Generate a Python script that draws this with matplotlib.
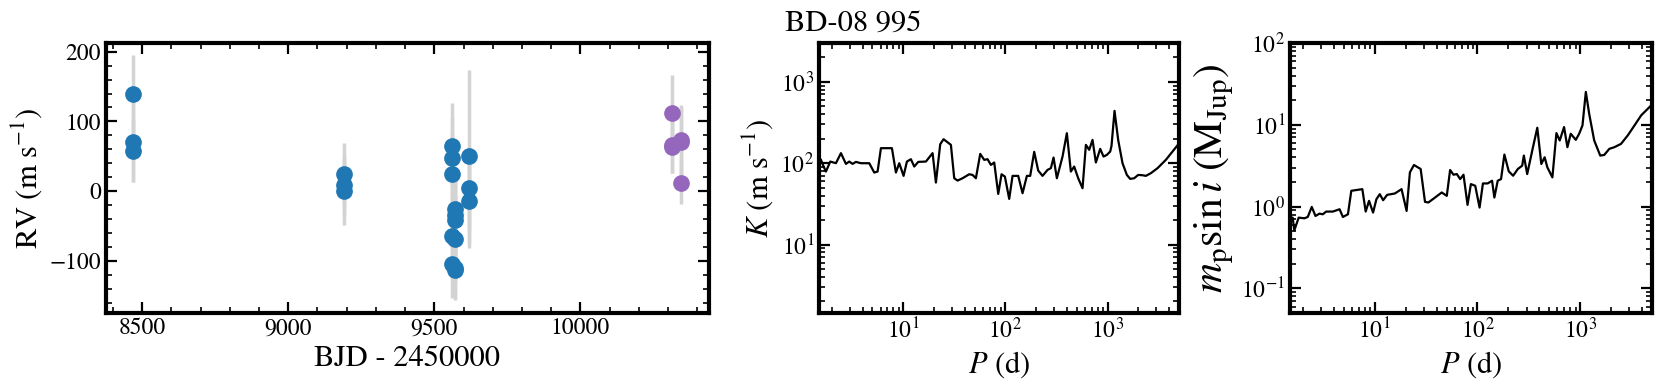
import numpy as np
import matplotlib
matplotlib.use('Agg')
import matplotlib.pyplot as plt
from matplotlib.ticker import MultipleLocator

plt.rcParams['font.family'] = 'STIXGeneral'
plt.rcParams['mathtext.fontset'] = 'stix'

# RV data (BJD - 2450000, m/s)
t_inst1 = [8469, 8469, 8469, 9192, 9192, 9192,
           9561, 9561, 9561, 9561, 9561,
           9570, 9570, 9570, 9570, 9570, 9570,
           9618, 9618, 9618]
rv_inst1 = [139, 70.7, 57.8, 24.4, 8.6, 0.0,
            65, 47, 24.4, -64, -105,
            -26, -34, -42, -69, -110, -113,
            50, 3.8, -14.8]
err_inst1 = [56, 57, 45, 44, 45, 48,
             61, 60, 58, 60, 49,
             55, 58, 60, 62, 44, 43,
             124, 60, 67]

t_inst2 = [10313, 10313, 10313, 10345, 10345, 10345]
rv_inst2 = [112.3, 66, 62.7, 73, 70, 12]
err_inst2 = [54, 40, 37, 50, 48, 31]

# detection limits
P_K = [1.566, 1.663, 1.752, 1.932, 2.195, 2.457, 2.750, 2.964, 3.195, 3.444,
       3.856, 4.652, 5.206, 5.612, 6.050, 7.752, 8.483, 9.144, 10.08, 10.87,
       11.89, 12.82, 14.03, 16.68, 19.38, 20.89, 23.03, 24.82, 29.29, 31.57,
       34.03, 38.09, 44.26, 47.72, 51.44, 56.72, 62.07, 66.90, 72.11, 77.73,
       85.10, 91.71, 98.86, 109.0, 117.5, 133.5, 147.2, 162.3, 174.9, 191.4,
       209.5, 231.0, 258.5, 278.7, 296.0, 319.0, 362.5, 399.6, 437.3, 471.4,
       515.9, 568.9, 613.5, 661.1, 712.6, 768.3, 847.1, 912.8, 984.0, 1061,
       1093, 1170, 1270, 1401, 1545, 1665, 1822, 1994, 2198, 2369,
       2651, 3081, 3718, 4321, 5020]
K = [109.8, 90.9, 78.9, 104.7, 99.9, 132.8, 98.0, 104.7, 98.0, 103.7,
     99.9, 99.9, 76.7, 78.9, 152.9, 152.9, 76.7, 99.9, 69.8, 104.7,
     111.9, 90.9, 103.7, 104.7, 132.8, 57.8, 171.1, 197.1, 167.9, 65.3,
     61.1, 65.3, 73.1, 71.7, 65.3, 130.1, 109.8, 111.9, 95.3, 101.9,
     41.9, 73.1, 68.4, 36.4, 69.8, 69.8, 42.7, 69.8, 69.8, 137.8,
     81.1, 69.8, 82.7, 86.7, 117.2, 65.3, 120.6, 233.6, 78.9, 90.9,
     65.3, 49.2, 167.9, 145.9, 193.2, 101.9, 150.0, 120.6, 126.4, 138.9,
     163.3, 439.5, 193.2, 99.9, 71.7, 64.1, 65.3, 71.7, 71.1, 69.8,
     75.3, 86.7, 109.8, 138.9, 175.8]

P_m = [1.507, 1.589, 1.649, 1.818, 2.066, 2.228, 2.438, 2.648, 2.897, 3.120,
       3.365, 3.909, 4.545, 4.898, 5.483, 5.912, 7.572, 8.161, 8.801, 9.633,
       10.38, 11.19, 12.07, 13.21, 15.69, 18.24, 20.42, 21.99, 24.08, 27.98,
       30.84, 33.25, 38.64, 44.90, 50.25, 54.16, 58.38, 62.92, 67.82, 73.10,
       80.02, 86.25, 95.08, 104.8, 113.0, 125.7, 138.6, 146.0, 157.4, 169.6,
       182.8, 201.6, 222.3, 247.1, 272.4, 282.7, 304.7, 341.2, 382.1, 418.0,
       450.5, 478.6, 535.9, 586.6, 631.6, 696.3, 750.4, 808.7, 905.5, 976.2,
       1052, 1134, 1222, 1368, 1566, 1714, 1918, 2148, 2496, 2902,
       3374, 3921, 4911]
m_sini = [0.667, 0.733, 0.512, 0.733, 0.719, 0.747, 0.991, 0.768, 0.820, 0.805,
          0.869, 0.869, 0.928, 0.747, 0.805, 1.560, 1.634, 0.869, 1.175, 0.845,
          1.231, 1.418, 1.197, 1.392, 1.446, 1.634, 0.885, 2.620, 3.225, 2.882,
          1.143, 1.122, 1.291, 1.488, 1.353, 2.800, 2.453, 2.500, 2.170, 2.453,
          1.049, 1.884, 1.796, 0.973, 1.919, 1.919, 2.070, 1.291, 2.070, 2.170,
          4.325, 2.697, 2.384, 2.882, 3.165, 4.202, 2.500, 4.842, 9.204, 3.318,
          4.010, 3.020, 2.275, 7.914, 6.431, 9.383, 5.322, 7.766, 6.546, 7.766,
          9.824, 25.22, 13.67, 6.431, 4.202, 4.281, 5.080, 5.322, 5.848, 7.413,
          9.824, 13.05, 17.29]

title = 'BD-08 995'

fig = plt.figure(figsize=(16.61, 3.86), dpi=100)
ax1 = fig.add_axes([0.0638, 0.1891, 0.3630, 0.6995])
ax2 = fig.add_axes([0.4931, 0.1891, 0.2167, 0.6995])
ax3 = fig.add_axes([0.7767, 0.1891, 0.2179, 0.6995])

ax1.errorbar(t_inst1, rv_inst1, yerr=err_inst1, fmt='none', ecolor='lightgray',
             elinewidth=2.5, zorder=1)
ax1.errorbar(t_inst2, rv_inst2, yerr=err_inst2, fmt='none', ecolor='lightgray',
             elinewidth=2.5, zorder=1)
ax1.plot(t_inst1, rv_inst1, 'o', color='tab:blue', ms=11, zorder=3)
ax1.plot(t_inst2, rv_inst2, 'o', color='tab:purple', ms=11, zorder=3)
ax1.set_xlim(8376, 10440)
ax1.set_ylim(-175, 212.5)
ax1.xaxis.set_major_locator(MultipleLocator(500))
ax1.xaxis.set_minor_locator(MultipleLocator(100))
ax1.yaxis.set_major_locator(MultipleLocator(100))
ax1.yaxis.set_minor_locator(MultipleLocator(20))
ax1.set_xlabel('BJD - 2450000', fontsize=22)
ax1.set_ylabel(r'RV (m s$^{-1}$)', fontsize=22)

ax2.plot(P_K, K, color='k', lw=1.6)
ax2.set_xscale('log')
ax2.set_yscale('log')
ax2.set_xlim(1.5, 5000)
ax2.set_ylim(1.44, 3000)
ax2.set_xlabel(r'$P$ (d)', fontsize=22)
ax2.set_ylabel(r'$K$ (m s$^{-1}$)', fontsize=22)

ax3.plot(P_m, m_sini, color='k', lw=1.6)
ax3.set_xscale('log')
ax3.set_yscale('log')
ax3.set_xlim(1.5, 5000)
ax3.set_ylim(0.05, 100)
ax3.set_xlabel(r'$P$ (d)', fontsize=22)
ax3.set_ylabel(r'$m_{\rm p} \sin i$ (M$_{\rm Jup}$)', fontsize=30)

for ax in (ax1, ax2, ax3):
    for s in ax.spines.values():
        s.set_linewidth(3)
    ax.tick_params(which='both', direction='in', top=True, right=True, labelsize=17)
    ax.tick_params(which='major', length=8, width=1.6)
    ax.tick_params(which='minor', length=4, width=1.2)

fig.text(0.5136, 0.917, title, ha='center', va='baseline', fontsize=22)

fig.savefig('out.png', dpi=100)
